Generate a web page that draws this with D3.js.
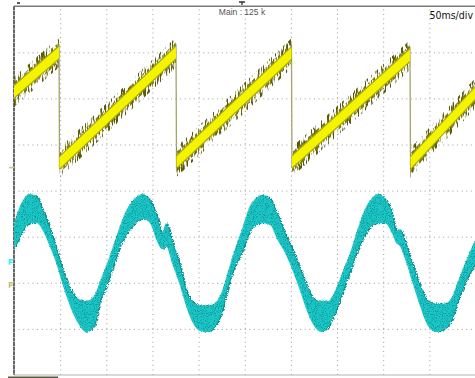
<!DOCTYPE html>
<html>
<head>
<meta charset="utf-8">
<script src="https://cdn.jsdelivr.net/npm/d3@7"></script>
<style>
  body { margin: 0; background: #fff; }
  svg { display: block; }
</style>
</head>
<body>
<svg id="scope" width="475" height="378"></svg>
<script>
// screen: 10 divs x 50 ms, 8 vertical divs
const timeTicks = d3.range(0, 501, 50);
const divTicks = d3.range(-4, 5, 1);

// ch1 (yellow sawtooth) vertices, time in ms, level in divs
const ch1Time = [0, 48.8, 49.3, 175.5, 176.1, 300.6, 301.2, 429.0, 429.6, 500];
const ch1Level = [2.14, 3.0, 0.6, 3.0, 0.62, 2.98, 0.62, 2.94, 0.6, 2.12];

// ch2 (cyan) envelope
const ch2Time = [0, 6.5, 11.9, 17.3, 24.9, 31.4, 39.0, 46.6, 53.1, 60.7, 69.3, 78.0, 86.7, 93.2,
  100.8, 107.3, 114.8, 122.4, 131.1, 139.7, 147.3, 154.9, 160.3, 164.7, 171.2, 179.8, 186.4,
  193.9, 201.5, 210.2, 217.8, 225.4, 231.9, 239.4, 247.0, 255.7, 262.2, 268.7, 277.4, 285.0,
  293.6, 301.2, 309.9, 317.4, 325.0, 332.6, 340.2, 347.8, 355.4, 364.0, 371.6, 379.2, 386.8,
  394.4, 401.9, 409.5, 413.9, 418.2, 423.6, 431.2, 439.9, 448.5, 457.2, 465.9, 474.5, 481.0,
  488.6, 500];
const ch2Upper = [-0.68, -0.31, -0.12, -0.05, -0.12, -0.42, -0.81, -1.29, -1.72, -2.11, -2.33,
  -2.37, -2.26, -1.94, -1.55, -1.18, -0.74, -0.38, -0.14, -0.05, -0.20, -0.53, -0.90, -0.68,
  -1.07, -1.61, -2.15, -2.39, -2.46, -2.46, -2.41, -2.15, -1.72, -1.24, -0.81, -0.31, -0.14,
  -0.07, -0.16, -0.46, -0.90, -1.24, -1.68, -2.04, -2.33, -2.37, -2.37, -2.15, -1.76, -1.33,
  -0.85, -0.42, -0.16, -0.05, -0.16, -0.46, -0.85, -0.81, -1.07, -1.55, -2.04, -2.37, -2.43,
  -2.43, -2.28, -1.94, -1.55, -1.03];
const ch2Lower = [-1.24, -0.98, -0.77, -0.68, -0.68, -0.85, -1.20, -1.61, -2.04, -2.48, -2.85,
  -3.04, -2.91, -2.37, -2.00, -1.61, -1.18, -0.90, -0.68, -0.59, -0.68, -1.07, -1.24, -1.18,
  -1.55, -2.04, -2.48, -2.85, -3.02, -3.04, -2.91, -2.59, -2.04, -1.61, -1.29, -0.85, -0.72,
  -0.68, -0.72, -1.03, -1.33, -1.68, -2.15, -2.59, -2.91, -3.04, -2.93, -2.63, -2.20, -1.72,
  -1.29, -0.96, -0.74, -0.68, -0.68, -0.90, -1.11, -1.18, -1.46, -1.94, -2.48, -2.91, -3.04,
  -2.98, -2.76, -2.37, -1.98, -1.55];

const svg = d3.select('#scope');
const plotL = 14, plotR = 475.5, plotT = 6.2, plotB = 375;

const x = d3.scaleLinear().domain([0, 500]).range([plotL, plotR]);
const y = d3.scaleLinear().domain([-4, 4]).range([plotB, plotT]);

svg.append('rect').attr('width', 475).attr('height', 378).attr('fill', '#fff');

const defs = svg.append('defs');

// vertical streak mask for the noisy yellow fringe
function streakFilter(id, freq, seed, gain, offset) {
  const f = defs.append('filter').attr('id', id)
    .attr('x', '-5%').attr('y', '-30%').attr('width', '110%').attr('height', '160%');
  f.append('feTurbulence').attr('type', 'fractalNoise').attr('baseFrequency', freq)
    .attr('numOctaves', 2).attr('seed', seed).attr('result', 'n');
  f.append('feColorMatrix').attr('in', 'n').attr('type', 'matrix')
    .attr('values', `0 0 0 0 0  0 0 0 0 0  0 0 0 0 0  ${gain} 0 0 0 ${offset}`).attr('result', 'm');
  f.append('feComposite').attr('in', 'SourceGraphic').attr('in2', 'm').attr('operator', 'in');
}
streakFilter('streakOuter', '0.6 0.08', 4, 9, -4.8);
streakFilter('streakMid', '0.7 0.12', 9, 8, -3.5);
streakFilter('speckle', '0.9 0.9', 2, 6, -3.0);

const fuzz = defs.append('filter').attr('id', 'fuzz')
  .attr('x', '-5%').attr('y', '-10%').attr('width', '110%').attr('height', '120%');
fuzz.append('feTurbulence').attr('type', 'turbulence').attr('baseFrequency', '0.8')
  .attr('numOctaves', 1).attr('seed', 5).attr('result', 't');
fuzz.append('feDisplacementMap').attr('in', 'SourceGraphic').attr('in2', 't')
  .attr('scale', 4).attr('xChannelSelector', 'R').attr('yChannelSelector', 'G');

// grid
svg.append('g').attr('class', 'grid').attr('transform', `translate(0,${plotB})`)
  .call(d3.axisBottom(x).tickValues(timeTicks.slice(1, -1)).tickSize(-(plotB - plotT)).tickFormat(''));
svg.append('g').attr('class', 'grid').attr('transform', `translate(${plotL},0)`)
  .call(d3.axisLeft(y).tickValues(divTicks.slice(1, -1)).tickSize(-(plotR - plotL)).tickFormat(''));
svg.selectAll('.grid .domain').remove();
svg.selectAll('.grid line')
  .attr('stroke', '#9c9c9c').attr('stroke-width', 1).attr('stroke-dasharray', '1,3.615');

// frame
svg.append('line').attr('x1', plotL).attr('x2', 475).attr('y1', plotT).attr('y2', plotT)
  .attr('stroke', '#7a7a7a').attr('stroke-width', 1.4);
svg.append('line').attr('x1', plotL).attr('x2', 475).attr('y1', plotB).attr('y2', plotB)
  .attr('stroke', '#b4b4b4').attr('stroke-width', 1.2);
svg.append('line').attr('x1', plotL).attr('x2', plotL).attr('y1', plotT).attr('y2', plotB)
  .attr('stroke', '#666').attr('stroke-width', 2).attr('stroke-dasharray', '4.1,0.5');
svg.append('line').attr('x1', 8).attr('x2', 58).attr('y1', 377.3).attr('y2', 377.3)
  .attr('stroke', '#5c5a3c').attr('stroke-width', 1.8);

// ch2 band
const ch2 = ch2Time.map((t, i) => ({ t, hi: ch2Upper[i], lo: ch2Lower[i] }));
const band = d3.area().x(d => x(d.t)).y0(d => y(d.lo)).y1(d => y(d.hi)).curve(d3.curveMonotoneX);
const g2 = svg.append('g');
g2.append('path').datum(ch2).attr('d', band).attr('fill', '#0b9090').attr('filter', 'url(#fuzz)');
g2.append('path').datum(ch2).attr('d', band).attr('fill', '#1fc9c9')
  .attr('transform', 'translate(0,1.2)').attr('opacity', 0.95);
g2.append('path').datum(ch2).attr('d', band).attr('fill', '#067a7a')
  .attr('filter', 'url(#speckle)').attr('opacity', 0.5);

// ch1 sawtooth
const ch1 = ch1Time.map((t, i) => ({ t, v: ch1Level[i] }));
const g1 = svg.append('g');
for (let i = 0; i < ch1.length - 1; i++) {
  const a = ch1[i], b = ch1[i + 1];
  if (b.v < a.v) {
    g1.append('line').attr('x1', x(a.t)).attr('x2', x(b.t))
      .attr('y1', y(a.v) - 8).attr('y2', y(b.v) + 6)
      .attr('stroke', '#a5a46a').attr('stroke-width', 1.3);
  }
}
for (let i = 0; i < ch1.length - 1; i++) {
  const a = ch1[i], b = ch1[i + 1];
  if (b.v <= a.v) continue;
  const seg = [a, b];
  const ramp = h => d3.area().x(d => x(d.t)).y0(d => y(d.v) + h).y1(d => y(d.v) - h);
  g1.append('path').datum(seg).attr('d', ramp(15)).attr('fill', '#5a5a10').attr('filter', 'url(#streakOuter)');
  g1.append('path').datum(seg).attr('d', ramp(10)).attr('fill', '#7c7c18').attr('filter', 'url(#streakMid)');
  g1.append('path').datum(seg).attr('d', ramp(7.2)).attr('fill', '#a8a810');
  g1.append('path').datum(seg).attr('d', ramp(5.6)).attr('fill', '#f4f400');
}

// channel markers on the left edge
svg.append('line').attr('x1', 9).attr('x2', 14).attr('y1', y(0.5)).attr('y2', y(0.5))
  .attr('stroke', '#c9c78e').attr('stroke-width', 1.6);
svg.append('path').attr('d', `M13.5,${y(-1.5)} H9.5 V${y(-1.5) + 5} M9.5,${y(-1.5) + 2.5} H12.5`)
  .attr('stroke', '#3fe6f2').attr('stroke-width', 1.6).attr('fill', 'none');
svg.append('path').attr('d', `M13.5,${y(-2.0)} H9.5 V${y(-2.0) + 5} M9.5,${y(-2.0) + 2.5} H12.5`)
  .attr('stroke', '#c8bf6e').attr('stroke-width', 1.6).attr('fill', 'none');

// top annotations
svg.append('path').attr('d', 'M239,2 H245 M242,2 V5').attr('stroke', '#333').attr('stroke-width', 1.3);
svg.append('path').attr('d', 'M17,3 H20').attr('stroke', '#222').attr('stroke-width', 1.5);
svg.append('text').attr('x', 242).attr('y', 15).attr('text-anchor', 'middle')
  .attr('font-family', 'Liberation Sans, Arial, sans-serif').attr('font-size', 8.5)
  .attr('fill', '#555').text('Main : 125 k');
svg.append('text').attr('x', 473).attr('y', 19).attr('text-anchor', 'end')
  .attr('font-family', 'Liberation Sans Narrow, DejaVu Sans Condensed, sans-serif').attr('font-size', 10.5)
  .attr('fill', '#111').text('50ms/div');
</script>
</body>
</html>
